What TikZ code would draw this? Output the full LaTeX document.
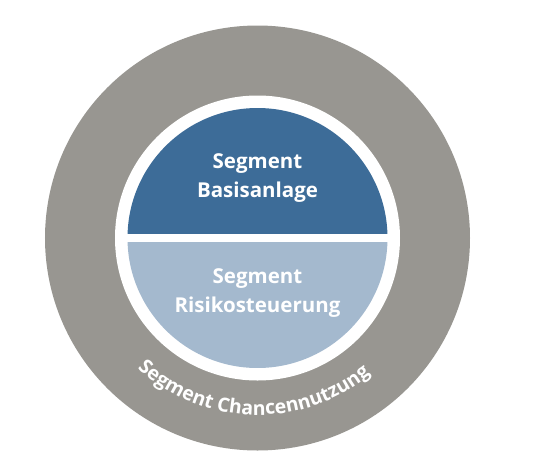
\documentclass[tikz,border=0pt]{standalone}
\usepackage{fontspec}
\setmainfont{Open Sans}
\usetikzlibrary{decorations.text}
\begin{document}
\begin{tikzpicture}[x=1pt, y=1pt, line join=round]
  \definecolor{cRing}{RGB}{152, 150, 145}
  \definecolor{cBasis}{RGB}{61, 108, 152}
  \definecolor{cRisk}{RGB}{164, 185, 206}

  \useasboundingbox (-257.5, -229) rectangle (301.5, 238);
  \coordinate (M) at (0, 0);

  \fill[cRing] (M) circle (212.5pt);
  \fill[white] (M) circle (142.5pt);
  \begin{scope}
    \clip (M) circle (130pt);
    \fill[cBasis] (-130, 0) rectangle (130, 130);
    \fill[cRisk] (-130, 0) rectangle (130, -130);
  \end{scope}
  \draw[white, line width=7.5pt] (-132, 0) -- (132, 0);

  \node[white, font=\bfseries\fontsize{20.5}{29}\selectfont, align=center] (basis) at (0, 60) {Segment\\Basisanlage};
  \node[white, font=\bfseries\fontsize{20.5}{29}\selectfont, align=center] (risiko) at (0, -55) {Segment\\Risikosteuerung};

  \path[decorate, decoration={text along path, text align=center, text color=white,
      text={|\bfseries\fontsize{19.5}{24}\selectfont|Segment Chancennutzung}}]
    (M) ++(198.5:177pt) arc (198.5:338.5:177pt);
\end{tikzpicture}
\end{document}
